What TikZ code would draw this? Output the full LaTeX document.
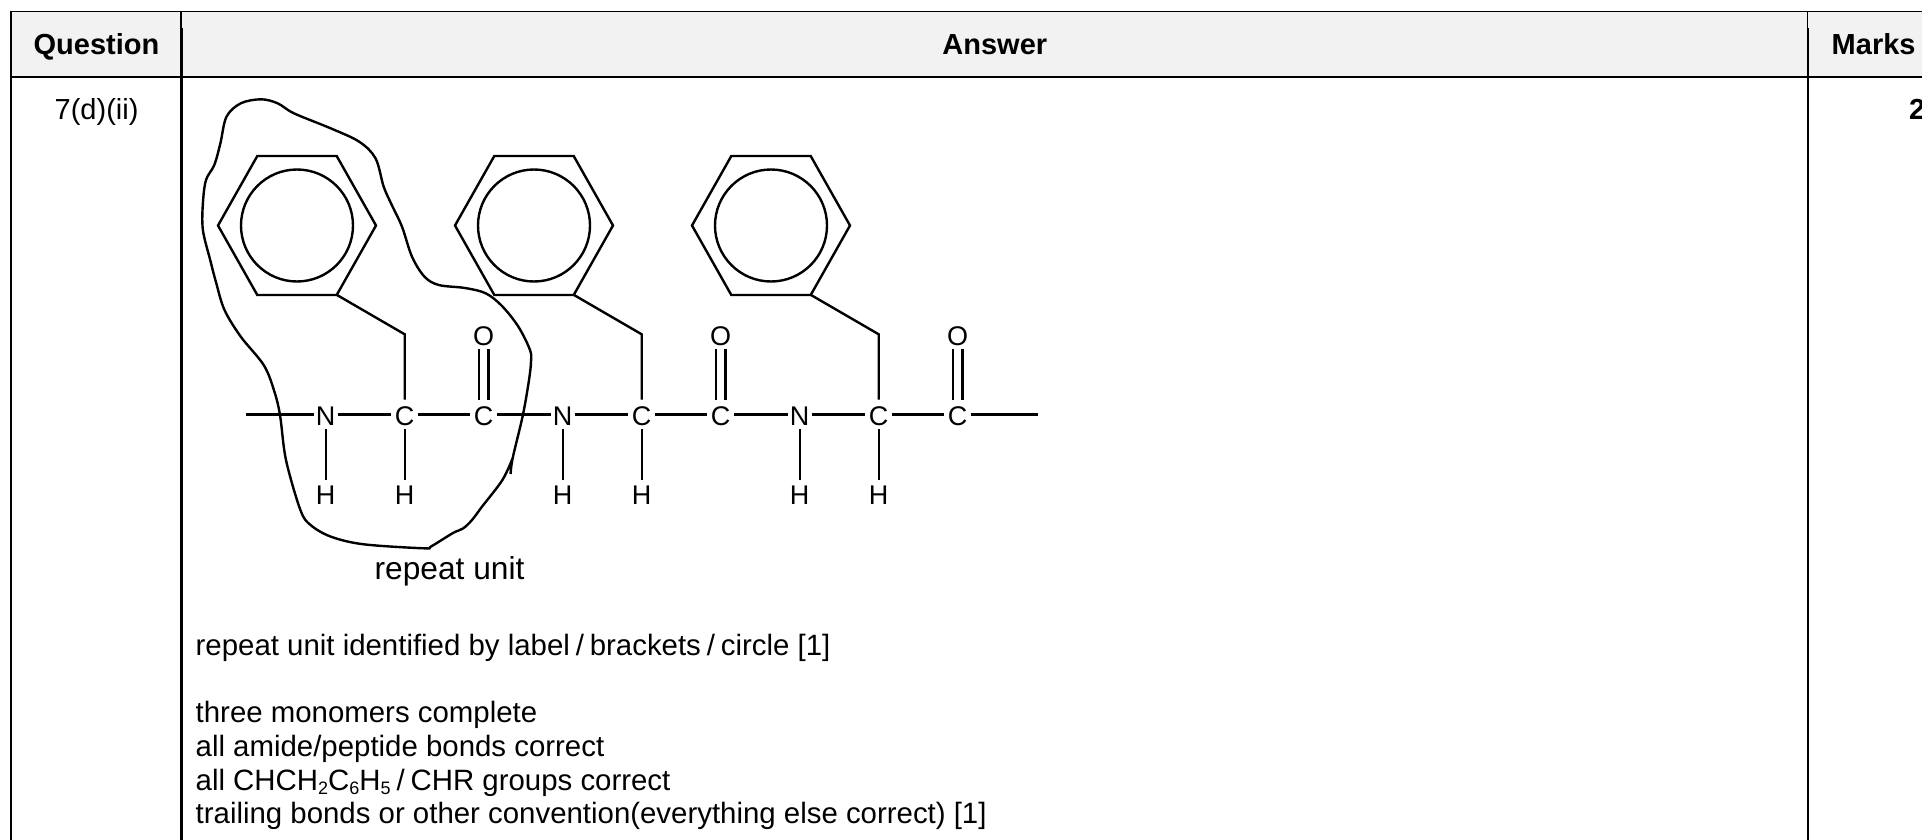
\documentclass[tikz,border=0pt]{standalone}
\usepackage{fontspec}
\setmainfont{Liberation Sans}
\newcommand{\bodysize}{\fontsize{29}{34}\selectfont}
\newcommand{\linesize}{\fontsize{29.4}{34}\selectfont}
\newcommand{\atomsize}{\fontsize{27}{30}\selectfont}
\newcommand{\subx}[1]{\raisebox{-4pt}{\fontsize{18}{18}\selectfont #1}}
\newcommand{\slashx}{\kern.2em/\kern.2em}
\tikzset{
  rule/.style={draw=black,line width=2.4pt},
  thinrule/.style={draw=black,line width=1.6pt},
  bond/.style={draw=black,line width=2.4pt},
  ring/.style={draw=black,line width=2.4pt,line join=miter},
  atom/.style={inner sep=0pt,minimum height=29pt,text height=22pt,text depth=0pt,font=\atomsize},
  natom/.style={atom,minimum width=24pt},
  catom/.style={atom,minimum width=26.6pt},
  hatom/.style={atom,minimum height=27pt,minimum width=24pt},
  txt/.style={inner sep=0pt,anchor=base west,font=\linesize},
  head/.style={inner sep=0pt,anchor=base,font=\bodysize\bfseries},
}
\begin{document}
\begin{tikzpicture}[x=1pt,y=-1pt]
\useasboundingbox (0,0) rectangle (1922,840);
\fill[white] (0,0) rectangle (1922,840);
\fill[black!5] (11,11) rectangle (1922,77);
% table
\draw[thinrule] (11,11.5) -- (1922,11.5);
\draw[rule] (11,77) -- (1922,77);
\draw[thinrule] (10.7,11) -- (10.7,28);
\draw[rule] (11,28) -- (11,840);
\draw[thinrule] (181,11) -- (181,28);
\draw[rule] (181.5,28) -- (181.5,840);
\draw[thinrule] (1807.5,11) -- (1807.5,28);
\draw[rule] (1808,28) -- (1808,840);
\node[head] (hq) at (96.5,55) {Question};
\node[head] (ha) at (994.8,55) {Answer};
\node[head,anchor=base west] (hm) at (1831.5,55) {Marks};
\node[inner sep=0pt,anchor=base west,font=\bodysize] (qn) at (54.5,120) {7(d)(ii)};
\node[head,anchor=base west] (mk) at (1909,120) {2};
% rings
\foreach \i/\cx in {1/297,2/534,3/771}{
  \draw[ring] (\cx-79,225.5) -- (\cx-39.7,156) -- (\cx+39.7,156) -- (\cx+79,225.5) -- (\cx+39.7,295) -- (\cx-39.7,295) -- cycle;
  \draw[ring] (\cx,225.5) circle[radius=56];
}
% atoms
\coordinate (L) at (246,414.3);
\coordinate (R) at (1037.5,414.3);
\foreach \k/\dx in {a/0,b/237,c/474}{
  \node[natom] (N\k) at (325.7+\dx,414.3) {N};
  \node[catom] (C\k) at (404.7+\dx,414.3) {C};
  \node[catom] (D\k) at (483.6+\dx,414.3) {C};
  \node[hatom] (HN\k) at (325.7+\dx,493.7) {H};
  \node[hatom] (HC\k) at (404.7+\dx,493.7) {H};
  \node[catom] (O\k) at (483.6+\dx,334.5) {O};
  \coordinate (K\k) at (404.7+\dx,334.3);
  \coordinate (P\k) at (337+\dx,295);
  \draw[bond] (N\k) -- (C\k);
  \draw[bond] (C\k) -- (D\k);
  \draw[bond] (N\k) -- (HN\k);
  \draw[bond] (C\k) -- (HC\k);
  \draw[bond] (P\k) -- (K\k) -- (C\k);
  \draw[bond] ([xshift=-4.9pt]D\k.north) -- ([xshift=-4.9pt]O\k.south);
  \draw[bond] ([xshift=4.9pt]D\k.north) -- ([xshift=4.9pt]O\k.south);
}
\draw[bond] (L) -- (Na);
\draw[bond] (Da) -- (Nb);
\draw[bond] (Db) -- (Nc);
\draw[bond] (Dc) -- (R);
% loop
\draw[bond,line join=round] plot[smooth,tension=.55] coordinates {
(510.6,474) (512.7,458) (522.9,415) (529,380) (531,361.7) (530,350) (518.4,326.7) (502,306) (485.7,293.3) (465,288) (438.8,285)
(424.5,276.7) (412,256.7) (402,226.7) (391.8,205) (383.7,186.7) (375.5,158.3) (359.2,141.7) (330.6,128.3) (293.9,113.3)
(277.6,103.3) (261,99.3) (240.8,103.3) (226.5,116.7) (220.4,143.3) (214.3,165) (206,180) (202.9,203.3) (202.9,230)
(210.2,260) (216.3,283.3) (224.5,310) (240.8,336.7) (263.7,365) (273.9,390) (280,415) (286,460) (300.4,510)
(310.6,525) (331,536.7) (363.7,544.3) (424,548.3) (431,546.5) (453,533) (463,528.5) (472,520) (482,506.7) (502.4,480) (512.7,458)};
% text
\node[inner sep=0pt,anchor=base] (ru) at (449.5,579) {\fontsize{31.7}{34}\selectfont repeat unit};
\node[txt] (t1) at (195.5,655.3) {repeat unit identified by label\slashx brackets\slashx circle [1]};
\node[txt] (t2) at (195.5,722.3) {three monomers complete};
\node[txt] (t3) at (195.5,756.3) {all amide/peptide bonds correct};
\node[txt] (t4) at (195.5,790) {all CHCH\subx{2}C\subx{6}H\subx{5}\slashx CHR groups correct};
\node[txt] (t5) at (195.5,823.7) {trailing bonds or other convention(everything else correct) [1]};
\end{tikzpicture}
\end{document}
